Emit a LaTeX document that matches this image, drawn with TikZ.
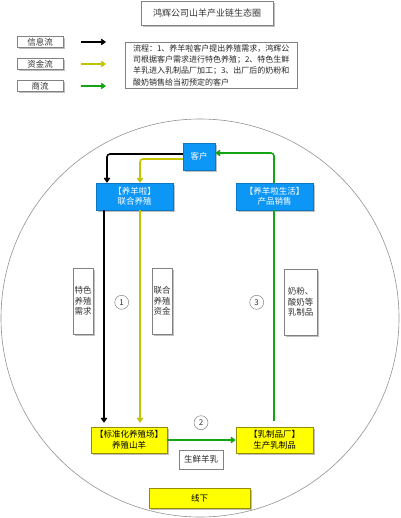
\documentclass[tikz,border=0pt]{standalone}
\usepackage{fontspec}
\setmainfont{Noto Sans CJK SC}
\usetikzlibrary{arrows.meta,shadows,calc}
\definecolor{bluebox}{RGB}{12,150,245}
\definecolor{yelbox}{RGB}{255,255,0}
\definecolor{yelborder}{RGB}{150,140,0}
\definecolor{yelline}{RGB}{195,195,0}
\definecolor{grnline}{RGB}{20,165,20}
\definecolor{grayborder}{RGB}{130,130,130}
\tikzset{
  shd/.style={drop shadow={shadow xshift=2pt,shadow yshift=-2pt,opacity=0.5,fill=gray}},
  bluenode/.style={shd,draw=bluebox!80!black,line width=0.4pt,fill=bluebox,text=white,align=center,inner sep=0pt,font=\fontsize{8.5}{10.5}\selectfont},
  yelnode/.style={shd,draw=yelborder,line width=0.5pt,fill=yelbox,text=black,align=center,inner sep=0pt,font=\fontsize{8.5}{10.5}\selectfont},
  whitenode/.style={shd,draw=grayborder,line width=0.5pt,fill=white,text=black!80,align=center,inner sep=0pt,font=\fontsize{8.5}{10.5}\selectfont},
  plainnode/.style={draw=grayborder,line width=0.5pt,fill=white,text=black!85,align=center,inner sep=0pt,font=\fontsize{8.5}{10.5}\selectfont},
  numnode/.style={circle,draw=grayborder,line width=0.5pt,minimum size=14pt,inner sep=0pt,font=\fontsize{8}{9}\selectfont,text=black!80},
  tip/.style={-{Straight Barb[length=3.5pt,width=5pt]}},
  infoline/.style={tip,draw=black,line width=1.6pt,rounded corners=3pt},
  fundline/.style={tip,draw=yelline,line width=1.6pt,rounded corners=3pt},
  goodsline/.style={tip,draw=grnline,line width=1.6pt,rounded corners=3pt},
}
\begin{document}
\begin{tikzpicture}[x=1pt,y=-1pt]
\useasboundingbox (0,0) rectangle (400,518);
% big circle
\draw[line width=0.6pt,draw=gray!85] (200,318) circle (199);
% title
\node[whitenode,minimum width=132pt,minimum height=24pt,font=\fontsize{9}{11}\selectfont] (title) at (207,13) {鸿辉公司山羊产业链生态圈};
% legend
\node[whitenode,minimum width=46pt,minimum height=11pt] (lg1) at (40,42) {信息流};
\node[whitenode,minimum width=46pt,minimum height=11pt] (lg2) at (40,64) {资金流};
\node[whitenode,minimum width=46pt,minimum height=11pt] (lg3) at (40,86) {商流};
\coordinate (la1) at (81,42); \coordinate (lb1) at (106,42);
\coordinate (la2) at (81,64); \coordinate (lb2) at (106,64);
\coordinate (la3) at (81,86); \coordinate (lb3) at (106,86);
\draw[infoline] (la1) -- (lb1);
\draw[fundline] (la2) -- (lb2);
\draw[goodsline] (la3) -- (lb3);
% process text
\node[plainnode,minimum width=172pt,minimum height=46pt,align=left,inner sep=2pt,font=\fontsize{8}{11.3}\selectfont,anchor=north west] (proc) at (125,42) {流程：1、养羊啦客户提出养殖需求，鸿辉公\\司根据客户需求进行特色养殖；2、特色生鲜\\羊乳进入乳制品厂加工；3、出厂后的奶粉和\\酸奶销售给当初预定的客户};
% main nodes
\node[bluenode,minimum width=32pt,minimum height=27pt] (kehu) at (199,156.5) {客户};
\node[bluenode,minimum width=77pt,minimum height=27pt] (yang) at (134.5,196.5) {【养羊啦】\\联合养殖};
\node[bluenode,minimum width=77pt,minimum height=27pt] (sale) at (274.5,196.5) {【养羊啦生活】\\产品销售};
\node[yelnode,minimum width=76pt,minimum height=26pt] (farm) at (129,440) {【标准化养殖场】\\养殖山羊};
\node[yelnode,minimum width=77pt,minimum height=26pt] (dairy) at (274.5,440) {【乳制品厂】\\生产乳制品};
\node[plainnode,minimum width=44pt,minimum height=19pt] (milk) at (201,459.5) {生鲜羊乳};
\node[yelnode,minimum width=101pt,minimum height=20pt] (xianxia) at (199.5,498) {线下};
% label boxes
\node[whitenode,minimum width=20pt,minimum height=66pt] (lab1) at (83,301) {特色\\养殖\\需求};
\node[whitenode,minimum width=20pt,minimum height=66pt] (lab2) at (162,301) {联合\\养殖\\资金};
\node[whitenode,minimum width=33pt,minimum height=66pt] (lab3) at (300.5,302) {奶粉、\\酸奶等\\乳制品};
% numbers
\node[numnode] (n1) at (121.7,302.3) {1};
\node[numnode] (n2) at (201,422.7) {2};
\node[numnode] (n3) at (256.7,302.3) {3};
% connectors
\coordinate (bx) at (104,0);
\coordinate (yx) at (140,0);
\coordinate (gx) at (274,0);
\draw[infoline] ([yshift=2.5pt]kehu.west) -| ([xshift=-27.5pt]yang.north);
\draw[fundline] ([yshift=-2.5pt]kehu.west) -| (yang.north -| yx);
\draw[infoline,shorten >=4pt] (yang.south -| bx) -- (farm.north -| bx);
\draw[fundline,shorten >=4pt] (yang.south -| yx) -- (farm.north -| yx);
\draw[goodsline] (farm.east) -- (dairy.west);
\draw[goodsline,-,shorten <=6pt] (dairy.north -| gx) -- (sale.south -| gx);
\draw[goodsline] (sale.north -| gx) |- ([yshift=3.5pt]kehu.east);
\end{tikzpicture}
\end{document}
